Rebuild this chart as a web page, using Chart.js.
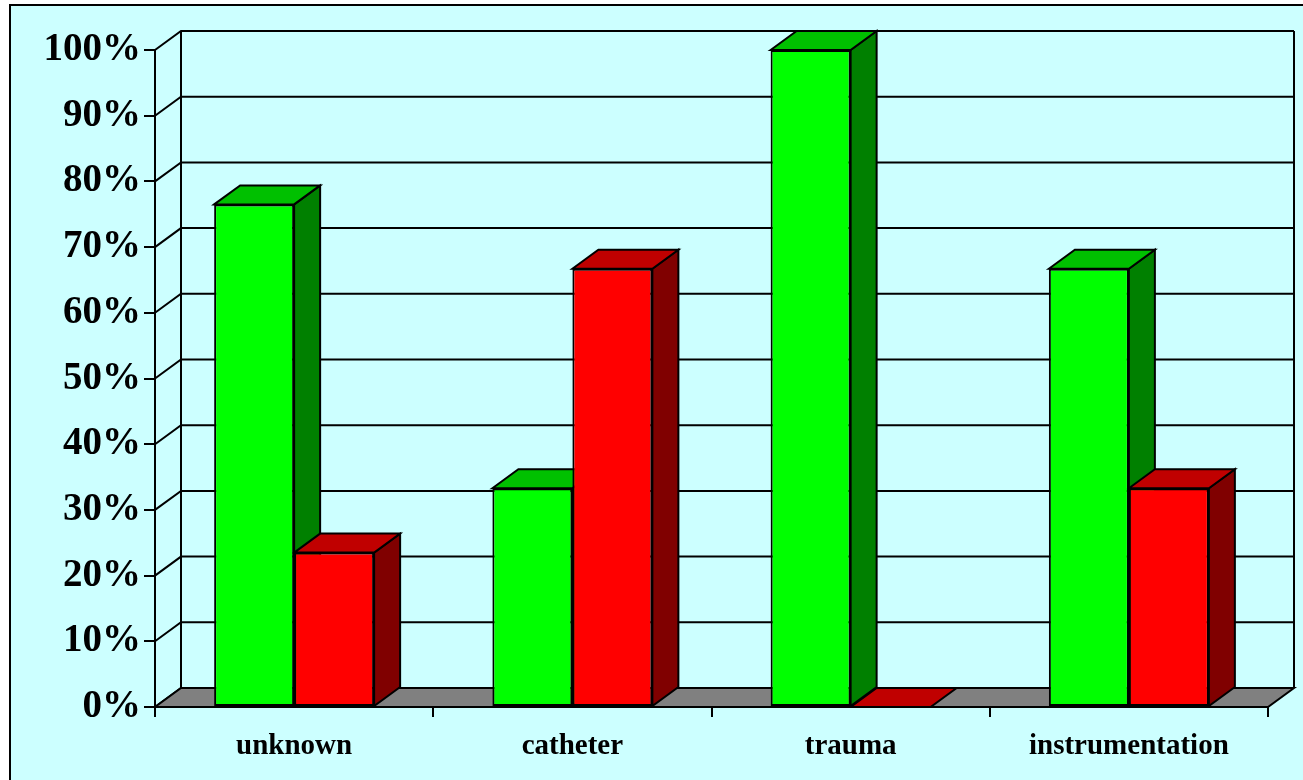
<!DOCTYPE html>
<html>
<head>
<meta charset="utf-8">
<script src="https://cdn.jsdelivr.net/npm/chart.js@4/dist/chart.umd.min.js"></script>
<style>
  html, body { margin: 0; padding: 0; background: #fff; overflow: hidden; }
  canvas { display: block; }
</style>
</head>
<body>
<canvas id="barChart" width="1303" height="780"></canvas>
<script>
// categories and the two series (percent of cases)
const categories = ["unknown", "catheter", "trauma", "instrumentation"];
const greenValues = [76.5, 33.3, 100, 66.7];
const redValues = [23.5, 66.7, 0, 33.3];
const yTickValues = [0, 10, 20, 30, 40, 50, 60, 70, 80, 90, 100];

document.addEventListener("DOMContentLoaded", function() {

    const depthX = 26;  //how far the back wall is shifted right
    const depthY = 19;  //and up
    const lineW = 2;

    // face colours for the 3d look: front, top, side
    const faces = [
        {front: "#00ff00", top: "#00c000", side: "#008000"},
        {front: "#ff0000", top: "#c00000", side: "#800000"}
    ];

    function poly(ctx, pts, fill) {
        ctx.beginPath();
        ctx.moveTo(pts[0][0], pts[0][1]);
        for (let i = 1; i < pts.length; i++) ctx.lineTo(pts[i][0], pts[i][1]);
        ctx.closePath();
        ctx.fillStyle = fill;
        ctx.fill();
        ctx.stroke();
    }

    //background, border, back wall, floor and the extruded faces of the bars
    const threeD = {
        id: "threeD",
        beforeDraw(chart) {
            const ctx = chart.ctx;
            ctx.save();
            ctx.fillStyle = "#ffffff";
            ctx.fillRect(0, 0, chart.width, chart.height);
            ctx.fillStyle = "#ccffff";
            ctx.fillRect(10, 5, chart.width, chart.height);
            ctx.strokeStyle = "#000";
            ctx.lineWidth = 2;
            ctx.strokeRect(10, 5, chart.width, chart.height);
            ctx.restore();
        },
        beforeDatasetsDraw(chart) {
            const ctx = chart.ctx;
            const area = chart.chartArea;
            const y = chart.scales.y;
            ctx.save();
            ctx.strokeStyle = "#000";
            ctx.lineWidth = lineW;

            // back wall gridlines + the little diagonals from the front axis
            yTickValues.forEach(v => {
                const py = y.getPixelForValue(v);
                ctx.beginPath();
                ctx.moveTo(area.left, py);
                ctx.lineTo(area.left + depthX, py - depthY);
                ctx.lineTo(area.right + depthX, py - depthY);
                ctx.stroke();
            });
            const topY = y.getPixelForValue(100) - depthY;
            const botY = area.bottom - depthY;
            ctx.beginPath();
            ctx.moveTo(area.left + depthX, botY);
            ctx.lineTo(area.left + depthX, topY);
            ctx.moveTo(area.right + depthX, botY);
            ctx.lineTo(area.right + depthX, topY);
            ctx.stroke();

            // grey floor
            poly(ctx, [[area.left, area.bottom], [area.right, area.bottom],
                [area.right + depthX, botY], [area.left + depthX, botY]], "#808080");

            // side and top of every bar, green then red in each category
            ctx.lineJoin = "miter";
            ctx.lineWidth = 2;
            for (let i = 0; i < categories.length; i++) {
                for (let d = 0; d < chart.data.datasets.length; d++) {
                    const bar = chart.getDatasetMeta(d).data[i];
                    const l = bar.x - bar.width / 2;
                    const r = bar.x + bar.width / 2;
                    const t = bar.y;
                    const b = bar.base;
                    if (b - t > 0.5) {
                        poly(ctx, [[r, b], [r, t], [r + depthX, t - depthY], [r + depthX, b - depthY]], faces[d].side);
                    }
                    poly(ctx, [[l, t], [l + depthX, t - depthY], [r + depthX, t - depthY], [r, t]], faces[d].top);
                }
            }
            ctx.restore();
        }
    };

    const data = {
        labels: categories,
        datasets: [
            {
                label: "Series 1",
                data: greenValues,
                backgroundColor: faces[0].front,
                borderColor: "#000",
                borderWidth: 2,
                borderSkipped: false
            },
            {
                label: "Series 2",
                data: redValues,
                backgroundColor: faces[1].front,
                borderColor: "#000",
                borderWidth: 2,
                borderSkipped: false
            }
        ]
    };

    const config = {
        type: "bar",
        data: data,
        plugins: [threeD],
        options: {
            responsive: false,
            animation: false,
            devicePixelRatio: 1,
            categoryPercentage: 0.575,
            barPercentage: 1.0,
            layout: {padding: {left: 10, top: 50, right: 35, bottom: 0}},
            plugins: {legend: {display: false}, tooltip: {enabled: false}},
            scales: {
                x: {
                    afterFit: s => { s.height = 73; },
                    grid: {drawOnChartArea: false, drawTicks: true, tickLength: 10, color: "#000", lineWidth: lineW},
                    border: {display: true, color: "#000", width: lineW},
                    ticks: {
                        color: "#000",
                        maxRotation: 0,
                        padding: 12,
                        font: {family: "'Liberation Serif', 'Times New Roman', serif", size: 29, weight: "bold"}
                    }
                },
                y: {
                    min: 0,
                    max: 100,
                    afterFit: s => { s.width = 145; },
                    afterBuildTicks: s => { s.ticks = yTickValues.map(v => ({value: v})); },
                    grid: {drawOnChartArea: false, drawTicks: true, tickLength: 11, color: "#000", lineWidth: lineW},
                    border: {display: true, color: "#000", width: lineW},
                    ticks: {
                        color: "#000",
                        padding: 3,
                        callback: v => v + "%",
                        font: {family: "'Liberation Serif', 'Times New Roman', serif", size: 39, weight: "bold"}
                    }
                }
            }
        }
    };

    const ctx = document.getElementById("barChart").getContext("2d");
    new Chart(ctx, config);
});
</script>
</body>
</html>
